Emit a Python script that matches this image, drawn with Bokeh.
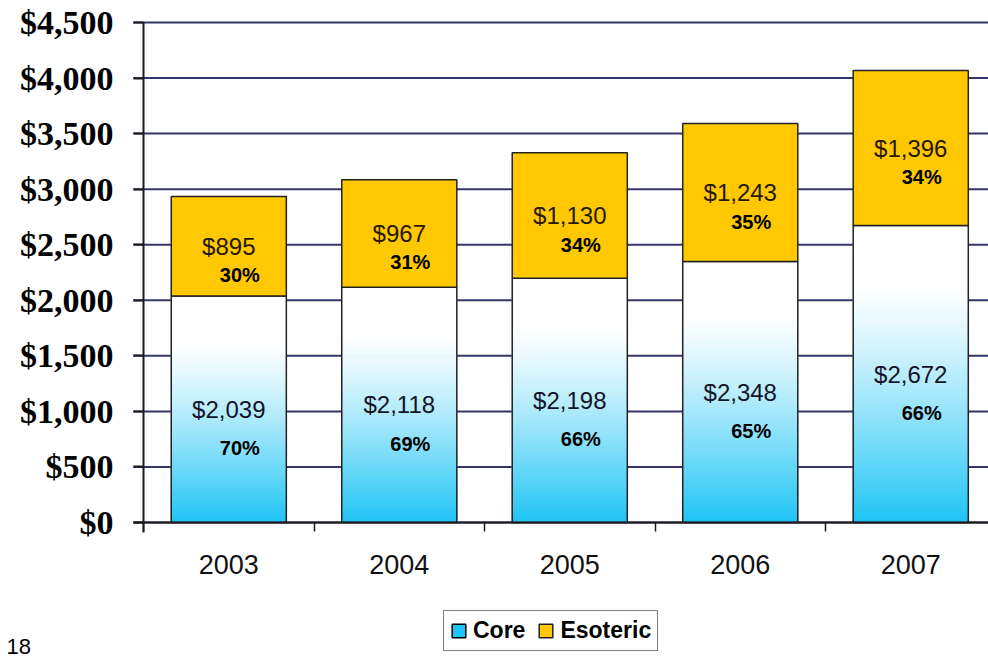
from bokeh.plotting import figure
from bokeh.models import (ColumnDataSource, Range1d, FixedTicker, NumeralTickFormatter,
                          Legend, LegendItem, Label)
from bokeh.core.properties import value
from bokeh.embed import file_html
from bokeh.resources import INLINE

years = [2003, 2004, 2005, 2006, 2007]
year_labels = ["2003", "2004", "2005", "2006", "2007"]
core = [2039, 2118, 2198, 2348, 2672]
esoteric = [895, 967, 1130, 1243, 1396]
core_pct = ["70%", "69%", "66%", "65%", "66%"]
eso_pct = ["30%", "31%", "34%", "35%", "34%"]
y_ticks = [0, 500, 1000, 1500, 2000, 2500, 3000, 3500, 4000, 4500]

GOLD = "#FFC800"
CYAN = (30, 196, 244)

X0, X1 = 2001.661, 2007.456   # frame covers the whole canvas; axes pinned in place
Y0, Y1 = -1215, 4698
AX = years[0] - 0.5           # position of the value axis

p = figure(width=988, height=657, output_backend="svg", toolbar_location=None,
           x_range=Range1d(X0, X1), y_range=Range1d(Y0, Y1),
           min_border_left=0, min_border_right=0, min_border_top=0,
           min_border_bottom=0)
p.outline_line_color = None
p.background_fill_color = "white"
p.border_fill_color = "white"

# horizontal grid lines starting at the value axis
p.segment(x0=AX - 0.06, x1=X1, y0=y_ticks, y1=y_ticks, line_color="#35356a",
          line_width=2, level="underlay")

# gradient core bars (white at top -> cyan at bottom), slices derived from data
N = 90
gx, gb, gt, gc = [], [], [], []
for yr, c in zip(years, core):
    for i in range(N):
        b = c * i / N
        t = c * (i + 1) / N
        frac_from_top = 1 - (i + 0.5) / N
        s = max(0.0, (frac_from_top - 0.2) / 0.8) ** 1.2
        col = tuple(int(round(255 + (cc - 255) * s)) for cc in CYAN)
        gx.append(yr); gb.append(b); gt.append(t)
        gc.append("#%02x%02x%02x" % col)
grad = ColumnDataSource(dict(x=gx, bottom=gb, top=gt, color=gc))
p.vbar(x="x", bottom="bottom", top="top", width=0.675, fill_color="color",
       line_color="color", line_width=1, source=grad)

src = ColumnDataSource(dict(
    x=years, core=core, eso=esoteric,
    total=[c + e for c, e in zip(core, esoteric)],
    core_mid=[c / 2 for c in core],
    eso_mid=[c + e / 2 for c, e in zip(core, esoteric)],
    core_lbl=["${:,}".format(v) for v in core],
    eso_lbl=["${:,}".format(v) for v in esoteric],
    core_pct=core_pct, eso_pct=eso_pct))

p.vbar(x="x", bottom=0, top="core", width=0.675, fill_color=None,
       line_color="#222222", line_width=1.5, source=src)
r_eso = p.vbar(x="x", bottom="core", top="total", width=0.675, fill_color=GOLD,
               line_color="#222222", line_width=1.5, source=src)
# legend-only swatch for Core (hidden in the plot)
r_core = p.vbar(x="x", bottom=0, top="core", width=0.675, fill_color="#1ec4f4",
                line_color="black", line_width=1.5, source=src, visible=False)

# labels
p.text(x="x", y="core_mid", text="core_lbl", source=src, text_align="center",
       text_baseline="middle", text_font=value("Liberation Sans"),
       text_font_size="24px", text_color="#141428")
p.text(x="x", y="eso_mid", text="eso_lbl", source=src, text_align="center",
       text_baseline="middle", text_font=value("Liberation Sans"),
       text_font_size="24px", text_color="#281805")
p.text(x="x", y="core_mid", text="core_pct", source=src, text_align="center",
       text_baseline="middle", x_offset=11, y_offset=39,
       text_font=value("Liberation Sans"), text_font_style="bold",
       text_font_size="20px", text_color="black")
p.text(x="x", y="eso_mid", text="eso_pct", source=src, text_align="center",
       text_baseline="middle", x_offset=11, y_offset=29,
       text_font=value("Liberation Sans"), text_font_style="bold",
       text_font_size="20px", text_color="black")

# value axis
p.yaxis.fixed_location = AX
p.yaxis.ticker = FixedTicker(ticks=y_ticks)
p.yaxis.bounds = (-90, 4500)
p.yaxis.formatter = NumeralTickFormatter(format="$0,0")
p.yaxis.major_label_text_font = "Liberation Serif"
p.yaxis.major_label_text_font_style = "bold"
p.yaxis.major_label_text_font_size = "34px"
p.yaxis.major_label_text_color = "black"
p.yaxis.major_tick_out = 10
p.yaxis.major_tick_in = 0
p.yaxis.major_tick_line_width = 2
p.yaxis.major_tick_line_color = "#1a1a1a"
p.yaxis.minor_tick_line_color = None
p.yaxis.axis_line_width = 2
p.yaxis.axis_line_color = "#1a1a1a"
p.yaxis.major_label_standoff = 20

# category axis
p.xaxis.fixed_location = 0
p.xaxis.bounds = (AX - 0.06, X1)
p.xaxis.ticker = FixedTicker(ticks=years, minor_ticks=[y - 0.5 for y in years] + [years[-1] + 0.5])
p.xaxis.major_label_overrides = {yr: lbl for yr, lbl in zip(years, year_labels)}
p.xaxis.major_tick_line_color = None
p.xaxis.minor_tick_out = 9
p.xaxis.minor_tick_in = 0
p.xaxis.minor_tick_line_width = 1.5
p.xaxis.minor_tick_line_color = "#1a1a1a"
p.xaxis.axis_line_width = 2
p.xaxis.axis_line_color = "#1a1a1a"
p.xaxis.major_label_text_font = "Liberation Sans"
p.xaxis.major_label_text_font_size = "27px"
p.xaxis.major_label_text_color = "#111111"
p.xaxis.major_label_standoff = 23

p.xgrid.grid_line_color = None
p.ygrid.grid_line_color = None

legend = Legend(items=[LegendItem(label="Core", renderers=[r_core], index=0),
                       LegendItem(label="Esoteric", renderers=[r_eso], index=0)],
                orientation="horizontal", location=(443, 6),
                label_text_font="Liberation Sans", label_text_font_style="bold",
                label_text_font_size="23px", label_text_color="black",
                glyph_width=17, glyph_height=17, label_standoff=6, spacing=12,
                padding=6, margin=0, border_line_color="black", border_line_width=1.5,
                background_fill_alpha=1.0, label_height=24,
                inactive_fill_alpha=0.0)
p.add_layout(legend, "center")

p.add_layout(Label(x=6, y=4, x_units="screen", y_units="screen", text="18",
                   text_font="Liberation Sans", text_font_size="22px",
                   text_color="black", text_baseline="bottom"))

open("out.html", "w").write(file_html(p, INLINE))
